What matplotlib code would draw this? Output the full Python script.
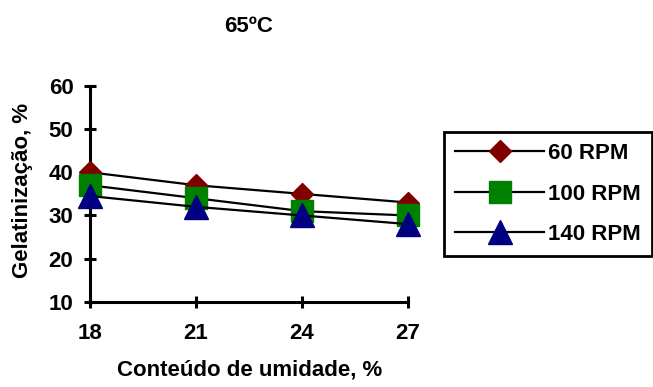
import matplotlib
matplotlib.use("Agg")
import matplotlib.pyplot as plt

plt.rcParams['font.family'] = ['Liberation Sans', 'DejaVu Sans']
plt.rcParams['font.weight'] = 'bold'

# data
umidade = [18, 21, 24, 27]
rpm60 = [40, 37, 35, 33]
rpm100 = [37, 34, 31, 30]
rpm140 = [34.5, 32, 30, 28]
series_labels = ["60 RPM", "100 RPM", "140 RPM"]
y_ticks = [10, 20, 30, 40, 50, 60]

fig = plt.figure(figsize=(6.53, 3.87), dpi=100)
ax = fig.add_axes([0.138, 0.22, 0.487, 0.558])

styles = [("D", "#800000", 11.5), ("s", "#008000", 16), ("^", "#000080", 17)]
for vals, lab, (mk, col, ms) in zip([rpm60, rpm100, rpm140], series_labels, styles):
    ax.plot(umidade, vals, color="black", lw=1.6, marker=mk, markersize=ms,
            markerfacecolor=col, markeredgecolor=col, label=lab, clip_on=False, zorder=3)

ax.set_xlim(18, 27)
ax.set_ylim(10, 60)
ax.set_xticks(umidade)
ax.set_yticks(y_ticks)
for s in ("top", "right"):
    ax.spines[s].set_visible(False)
for s in ("left", "bottom"):
    ax.spines[s].set_linewidth(2.2)
ax.tick_params(direction="inout", length=8, width=2.2, labelsize=16)
ax.tick_params(axis="x", pad=11)
ax.tick_params(axis="y", pad=8)
for t in ax.get_xticklabels() + ax.get_yticklabels():
    t.set_fontweight("bold")

fig.text(0.38, 0.932, "65ºC", ha="center", va="center", fontsize=16, fontweight="bold")
fig.text(0.383, 0.045, "Conteúdo de umidade, %", ha="center", va="center", fontsize=16, fontweight="bold")
fig.text(0.034, 0.509, "Gelatinização, %", ha="center", va="center", rotation=90,
         fontsize=16, fontweight="bold")

leg = ax.legend(loc="upper left", bbox_to_anchor=(0.68, 0.659), bbox_transform=fig.transFigure,
                borderaxespad=0, handlelength=4.0, fancybox=False, framealpha=1,
                prop={"size": 16, "weight": "bold"}, handletextpad=0.2, labelspacing=0.88,
                borderpad=0.5)
leg.get_frame().set_edgecolor("black")
leg.get_frame().set_linewidth(2)

fig.savefig("out.png", dpi=100)
